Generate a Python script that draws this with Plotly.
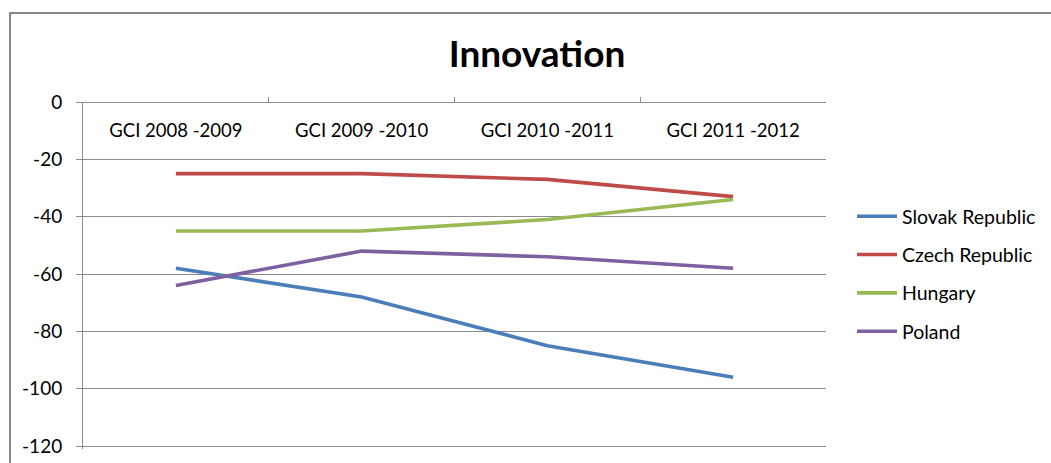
import plotly.graph_objects as go

categories = ["GCI 2008 -2009", "GCI 2009 -2010", "GCI 2010 -2011", "GCI 2011 -2012"]
slovak = [-58, -68, -85, -96]
czech = [-25, -25, -27, -33]
hungary = [-45, -45, -41, -34]
poland = [-64, -52, -54, -58]
y_ticks = [0, -20, -40, -60, -80, -100, -120]
y_tick_labels = ["0", "-20", "-40", "-60", "-80", "-100", "-120"]

series = [
    ("Slovak Republic", slovak, "#4A7EBB"),
    ("Czech Republic", czech, "#BE4B48"),
    ("Hungary", hungary, "#98B954"),
    ("Poland", poland, "#7D60A0"),
]

W, H = 1051, 463
FONT = "Lato"

fig = go.Figure()
for i, (name, vals, col) in enumerate(series):
    fig.add_trace(go.Scatter(
        x=categories, y=vals, name=name, mode="lines",
        line=dict(color=col, width=3.6), legendgroup=str(i),
    ))

grid = "#8c8c8c"
y_top_px, y_bot_px = 102, 448.9
ydom = [(H - y_bot_px) / H, (H - y_top_px) / H]

fig.update_layout(
    width=W, height=H,
    margin=dict(l=0, r=0, t=0, b=0, autoexpand=False),
    paper_bgcolor="white", plot_bgcolor="white",
    font=dict(family=FONT, color="#000000", size=18),
    title=dict(text="<b>Innovation</b>", x=537 / W, xanchor="center",
               y=(H - 54) / H, yanchor="middle", yref="paper",
               font=dict(size=37, family=FONT, color="#000000")),
    xaxis=dict(
        domain=[83 / W, 826 / W],
        anchor="free", position=ydom[1], side="bottom",
        type="category", range=[-0.5, 3.5],
        showline=True, linecolor=grid, linewidth=1,
        showgrid=False, zeroline=False, automargin=False,
        ticks="inside", tickson="boundaries", ticklen=5, tickcolor=grid,
        ticklabelstandoff=12,
        tickfont=dict(size=18.5, family=FONT),
    ),
    yaxis=dict(
        domain=ydom, range=[-121, 0],
        tickvals=y_ticks, ticktext=y_tick_labels,
        showline=True, linecolor=grid, linewidth=1,
        showgrid=True, gridcolor=grid, gridwidth=1, zeroline=False,
        automargin=False,
        ticks="outside", ticklen=6, tickcolor=grid,
        ticklabelstandoff=10,
        tickfont=dict(size=19, family=FONT),
    ),
    legend=dict(
        x=852 / W, xanchor="left", y=(H - 197) / H, yanchor="top",
        yref="paper",
        traceorder="grouped", tracegroupgap=10,
        font=dict(size=19.5, family=FONT),
        bgcolor="rgba(0,0,0,0)", itemwidth=40,
    ),
    shapes=[dict(type="rect", xref="paper", yref="paper",
                 x0=10 / W, x1=1.02, y0=-0.05, y1=(H - 13) / H,
                 line=dict(color="#868686", width=2), layer="below")],
    showlegend=True,
)

fig.write_html("out.html", config={"displayModeBar": False},
               post_script="document.body.style.margin='0';document.body.style.overflow='hidden';")
